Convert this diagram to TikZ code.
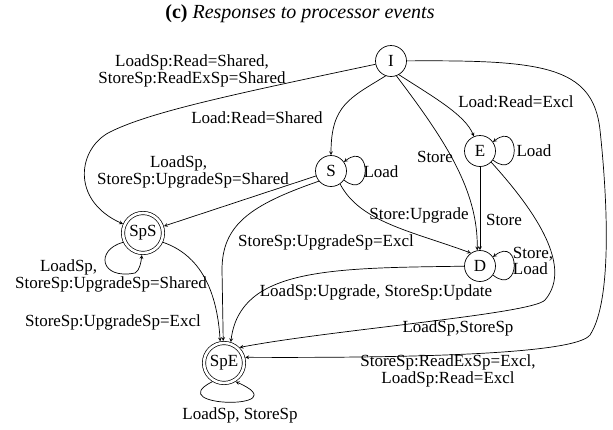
\documentclass[tikz,border=0pt]{standalone}
\usepackage{fontspec}
\setmainfont{Liberation Serif}
\begin{document}
\begin{tikzpicture}[x=1pt, y=-1pt, line width=0.7pt,
    font=\fontsize{17}{17.5}\selectfont,
    stnode/.style={circle, draw, minimum size=31pt, inner sep=0pt},
    spnode/.style={circle, draw, double, double distance=2.6pt, minimum size=40pt, inner sep=0pt, outer sep=2pt},
    lbl/.style={inner sep=0pt, align=center},
    trans/.style={-stealth}]
    \useasboundingbox (0,0) rectangle (613,429);
    \node (title) at (300,14) {\fontsize{20}{20}\selectfont\textbf{(c)} \textit{Responses to processor events}};
    % states
    \node[stnode] (I) at (391,61) {I};
    \node[stnode] (S) at (331,171) {S};
    \node[stnode] (E) at (480,151) {E};
    \node[stnode] (D) at (480,266) {D};
    \node[spnode] (SpS) at (143,233) {SpS};
    \node[spnode] (SpE) at (224,363) {SpE};
    % out of I
    \draw[trans] (I) .. controls (230,95) and (150,112) .. (110,132) .. controls (78,148) and (70,200) .. (SpS);
    \draw[trans] (I.250) .. controls (350,98) and (331,105) .. (S);
    \draw[trans] (I.300) .. controls (435,98) and (465,115) .. (E);
    \draw[trans] (I.290) .. controls (445,140) and (478,190) .. (D.100);
    \draw[trans] (I) .. controls (540,60) and (593,65) .. (600,130) .. controls (607,195) and (613,300) .. (590,335) .. controls (575,355) and (400,358) .. (SpE.15);
    % out of E
    \draw[trans] (E) -- (D);
    \draw[trans] (E.-45) .. controls (530,205) and (575,265) .. (545,300) .. controls (533,314) and (330,330) .. (SpE.45);
    % out of S
    \draw[trans] (S) -- (SpS);
    \draw[trans] (S.220) .. controls (250,205) and (222,225) .. (222,270) -- (SpE.92);
    \draw[trans] (S.-55) .. controls (360,222) and (411,231) .. (D.125);
    % out of D, SpS
    \draw[trans] (D) .. controls (330,268) and (240,268) .. (SpE.72);
    \draw[trans] (SpS.-25) .. controls (200,255) and (217,290) .. (SpE.100);
    % self loops
    \draw[trans] (S.-35) .. controls (372,202) and (372,140) .. (S.35);
    \draw[trans] (E.-35) .. controls (521,182) and (521,120) .. (E.35);
    \draw[trans] (D.-35) .. controls (521,297) and (521,235) .. (D.35);
    \draw[trans] (SpS.205) .. controls (95,250) and (100,280) .. (135,273) .. controls (140,270) and (141,262) .. (SpS.-93);
    \draw[trans] (SpE.238) .. controls (160,408) and (300,410) .. (SpE.-58);
    % labels
    \node[lbl] (lISpS) at (192,71) {LoadSp:Read=Shared,\\StoreSp:ReadExSp=Shared};
    \node[lbl] (lIS) at (257,118) {Load:Read=Shared};
    \node[lbl] (lIE) at (516,102) {Load:Read=Excl};
    \node[lbl] (lID) at (435,157) {Store};
    \node[lbl] (lED) at (504,220) {Store};
    \node[lbl] (lSS) at (381,172) {Load};
    \node[lbl] (lEE) at (534,151) {Load};
    \node[lbl, align=left, font=\fontsize{17}{13}\selectfont] (lDD) at (533,261) {Store,\\Load};
    \node[lbl, align=left] (lSSpS) at (193,172) {\hspace*{53pt}LoadSp,\\StoreSp:UpgradeSp=Shared};
    \node[lbl] (lSD) at (419,215) {Store:Upgrade};
    \node[lbl] (lSSpE) at (326,242) {StoreSp:UpgradeSp=Excl};
    \node[lbl] (lDSpE) at (376,292) {LoadSp:Upgrade, StoreSp:Update};
    \node[lbl, align=left] (lSpSSpS) at (111,276) {\hspace*{25pt}LoadSp,\\StoreSp:UpgradeSp=Shared};
    \node[lbl] (lSpSSpE) at (113,322) {StoreSp:UpgradeSp=Excl};
    \node[lbl] (lESpE) at (458,328) {LoadSp,StoreSp};
    \node[lbl] (lISpE) at (448,371) {StoreSp:ReadExSp=Excl,\\LoadSp:Read=Excl};
    \node[lbl] (lSpESpE) at (240,415) {LoadSp, StoreSp};
\end{tikzpicture}
\end{document}
